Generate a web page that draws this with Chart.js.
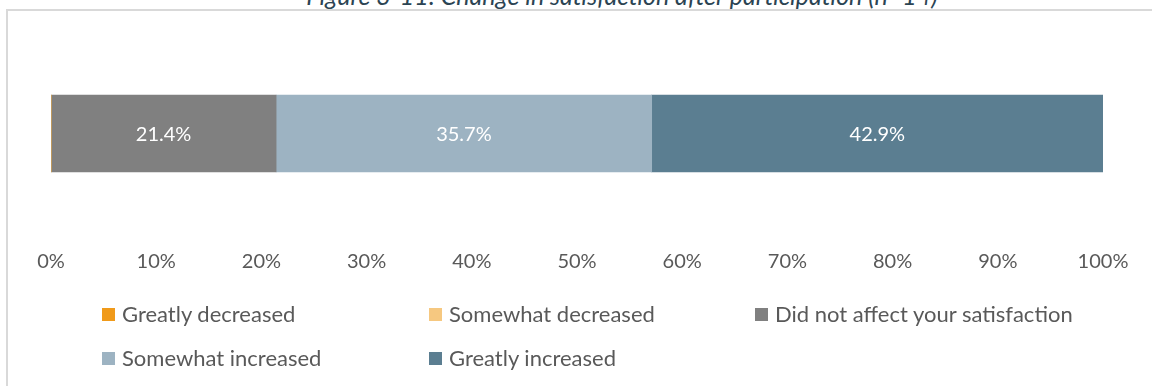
<!DOCTYPE html>
<html><head><meta charset="utf-8">
<script src="https://cdn.jsdelivr.net/npm/chart.js@4/dist/chart.umd.min.js"></script>
<style>
html,body{margin:0;padding:0;width:1152px;height:386px;overflow:hidden;background:#fff;font-family:Lato, sans-serif;}
#frame{position:absolute;left:6px;top:9px;width:1300px;height:600px;border:2px solid #d9d9d9;box-sizing:border-box;}
#title{position:absolute;left:0;width:1244px;top:-17px;line-height:25px;text-align:center;font-style:italic;font-size:25px;color:#2b4453;white-space:nowrap;}
#wrap{position:absolute;left:0;top:0;width:1152px;height:386px;}
.item{position:absolute;font-size:22px;color:#595959;white-space:nowrap;line-height:24px;height:24px;}
.box{position:absolute;left:0;top:6px;width:13px;height:13px;}
.txt{position:absolute;left:20px;top:0;}
</style></head>
<body>
<div id="frame"></div>
<div id="title">Figure 3-11: Change in satisfaction after participation (n=14)</div>
<div id="wrap"><canvas id="c" width="1152" height="386"></canvas></div>
<div id="legend"></div>
<script>
const categories = ['Change in satisfaction'];
const seriesNames = ['Greatly decreased', 'Somewhat decreased', 'Did not affect your satisfaction', 'Somewhat increased', 'Greatly increased'];
const greatlyDecreased = [0];
const somewhatDecreased = [0];
const didNotAffect = [21.4];
const somewhatIncreased = [35.7];
const greatlyIncreased = [42.9];
const tickValues = [0, 10, 20, 30, 40, 50, 60, 70, 80, 90, 100];
const colors = ['#f09a1a', '#f6c880', '#808080', '#9db3c2', '#5b7e91'];
const seriesValues = [greatlyDecreased, somewhatDecreased, didNotAffect, somewhatIncreased, greatlyIncreased];

const valueLabels = {
  id: 'valueLabels',
  afterDatasetsDraw(chart) {
    const ctx = chart.ctx;
    ctx.save();
    ctx.font = '20px Lato';
    ctx.fillStyle = '#ffffff';
    ctx.textAlign = 'center';
    ctx.textBaseline = 'middle';
    chart.data.datasets.forEach((ds, i) => {
      const meta = chart.getDatasetMeta(i);
      meta.data.forEach((el, j) => {
        const v = ds.data[j];
        if (!v) return;
        const p = el.getCenterPoint();
        ctx.fillText(v.toFixed(1) + '%', p.x, p.y + 1);
      });
    });
    ctx.restore();
  }
};

const chart = new Chart(document.getElementById('c'), {
  type: 'bar',
  data: {
    labels: categories,
    datasets: seriesNames.map((n, i) => ({
      label: n,
      data: seriesValues[i],
      backgroundColor: colors[i],
      borderWidth: 0,
      barThickness: 77
    }))
  },
  options: {
    indexAxis: 'y',
    responsive: false,
    animation: false,
    devicePixelRatio: 1,
    layout: { padding: { left: 51, right: 49, top: 31, bottom: 106 } },
    plugins: { legend: { display: false }, tooltip: { enabled: false }, title: { display: false } },
    scales: {
      x: {
        stacked: true, min: 0, max: 100,
        afterBuildTicks(scale) { scale.ticks = tickValues.map(v => ({ value: v })); },
        grid: { display: false }, border: { display: false },
        ticks: { padding: 6, color: '#595959', font: { family: 'Lato', size: 20 }, callback: v => v + '%', maxRotation: 0, autoSkip: false }
      },
      y: { stacked: true, display: false }
    }
  },
  plugins: [valueLabels]
});

const legendPos = [[102, 302], [429, 302], [755, 302], [102, 346], [429, 346]];
const lg = document.getElementById('legend');
chart.data.datasets.forEach((ds, i) => {
  const d = document.createElement('div');
  d.className = 'item';
  d.style.left = legendPos[i][0] + 'px';
  d.style.top = legendPos[i][1] + 'px';
  const b = document.createElement('span'); b.className = 'box'; b.style.background = ds.backgroundColor;
  const t = document.createElement('span'); t.className = 'txt'; t.textContent = ds.label;
  d.appendChild(b); d.appendChild(t); lg.appendChild(d);
});
</script>
</body></html>
